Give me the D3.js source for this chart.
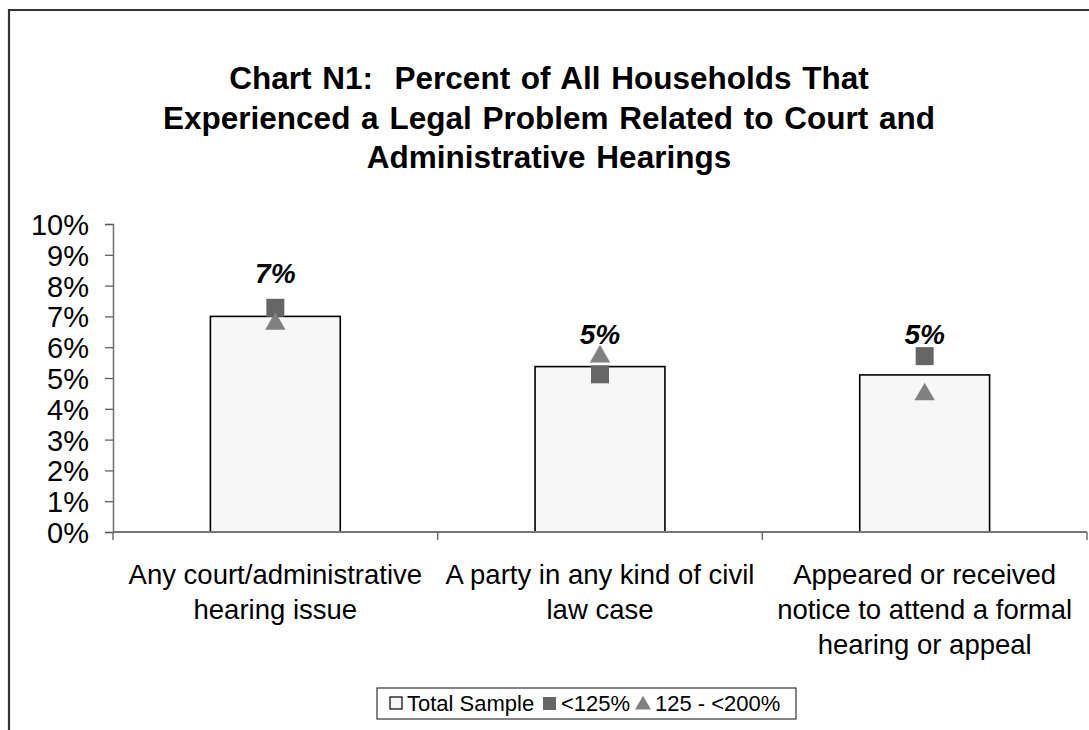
<!DOCTYPE html>
<html><head><meta charset="utf-8">
<script src="https://cdn.jsdelivr.net/npm/d3@7"></script>
<style>html,body{margin:0;padding:0;background:#fff;}svg{display:block;font-family:Arial,"Liberation Sans",sans-serif;} text{white-space:pre;}</style>
</head><body>
<svg id="c" width="1089" height="730"></svg>
<script>
const titleLines = ["Chart N1:  Percent of All Households That", "Experienced a Legal Problem Related to Court and", "Administrative Hearings"];
const categories = ["Any court/administrative|hearing issue", "A party in any kind of civil|law case", "Appeared or received|notice to attend a formal|hearing or appeal"];
const totalSample = [7.0, 5.37, 5.1];
const below125 = [7.28, 5.12, 5.71];
const from125to200 = [6.79, 5.73, 4.5];
const barLabels = ["7%", "5%", "5%"];
const yTicks = [0,1,2,3,4,5,6,7,8,9,10];
const legendItems = ["Total Sample", "<125%", "125 - <200%"];

const svg = d3.select("#c");
// outer frame
svg.append("path").attr("d","M9,740 L9,10 L1100,10").attr("fill","none").attr("stroke","#333").attr("stroke-width",2.2);

// title
const title = svg.append("text").attr("text-anchor","middle").attr("font-weight","bold").attr("font-size",31.5).attr("word-spacing",2).attr("fill","#000");
titleLines.forEach((t,i)=>title.append("tspan").attr("x",549).attr("y",89+i*39.5).text(t));

const x = d3.scaleBand().domain(categories).range([113,1087]).paddingInner(0).paddingOuter(0);
const y = d3.scaleLinear().domain([0,10]).range([532,224]);

// bars
const bw = x.bandwidth()*0.4;
svg.selectAll("rect.bar").data(totalSample).join("rect").attr("class","bar")
  .attr("x",(d,i)=>x(categories[i])+(x.bandwidth()-bw)/2).attr("width",bw)
  .attr("y",d=>y(d)).attr("height",d=>y(0)-y(d))
  .attr("fill","#f7f7f7").attr("stroke","#000").attr("stroke-width",1.6);

// y axis
const ya = svg.append("g").attr("transform","translate(113,0)")
  .call(d3.axisLeft(y).tickValues(yTicks).tickSize(8).tickPadding(16).tickFormat(d=>d+"%"));
ya.select(".domain").attr("stroke","#777").attr("stroke-width",1.6);
ya.selectAll(".tick line").attr("stroke","#555").attr("stroke-width",1.2);
ya.selectAll("text").attr("font-size",29).attr("font-family","Arial, 'Liberation Sans', sans-serif").attr("fill","#000").attr("dy","0.36em");

// x axis
const xa = svg.append("g").attr("transform","translate(0,532)");
xa.append("line").attr("x1",113).attr("x2",1087).attr("stroke","#777").attr("stroke-width",2);
const bounds = [113].concat(categories.map(c=>x(c)+x.bandwidth()));
xa.selectAll("line.t").data(bounds).join("line").attr("class","t")
  .attr("x1",d=>d).attr("x2",d=>d).attr("y1",0).attr("y2",8).attr("stroke","#666").attr("stroke-width",1.4);
categories.forEach((c,i)=>{
  const t = xa.append("text").attr("text-anchor","middle").attr("font-size",27.5).attr("fill","#000");
  c.split("|").forEach((ln,j)=>t.append("tspan").attr("x",x(c)+x.bandwidth()/2).attr("y",52+j*35).text(ln));
});

// markers
const cx = i => x(categories[i]) + x.bandwidth()/2;
svg.selectAll("rect.sq").data(below125).join("rect").attr("class","sq")
  .attr("x",(d,i)=>cx(i)-9).attr("y",d=>y(d)-9).attr("width",18).attr("height",18).attr("fill","#666");
const tri = d3.symbol().type(d3.symbolTriangle).size(180);
svg.selectAll("path.tr").data(from125to200).join("path").attr("class","tr")
  .attr("transform",(d,i)=>`translate(${cx(i)},${y(d)+1})`).attr("d",tri).attr("fill","#808080");

// bar labels (placed one unit above the rounded value they show)
svg.selectAll("text.bl").data(barLabels).join("text").attr("class","bl")
  .attr("x",(d,i)=>cx(i)).attr("y",d=>y(parseInt(d)+1)-3)
  .attr("text-anchor","middle").attr("font-weight","bold").attr("font-style","italic").attr("font-size",28).text(d=>d);

// legend
const lg = svg.append("g");
lg.append("rect").attr("x",377).attr("y",688).attr("width",419).attr("height",31).attr("fill","#fff").attr("stroke","#333").attr("stroke-width",1.2);
lg.append("rect").attr("x",390).attr("y",697).attr("width",12).attr("height",12).attr("fill","#f7f7f7").attr("stroke","#000").attr("stroke-width",1.2);
lg.append("text").attr("x",407).attr("y",711).attr("font-size",22).text(legendItems[0]);
lg.append("rect").attr("x",543).attr("y",697).attr("width",13).attr("height",13).attr("fill","#666");
lg.append("text").attr("x",561).attr("y",711).attr("font-size",22).text(legendItems[1]);
lg.append("path").attr("transform","translate(643,705)").attr("d",d3.symbol().type(d3.symbolTriangle).size(110)).attr("fill","#808080");
lg.append("text").attr("x",655).attr("y",711).attr("font-size",22).text(legendItems[2]);
</script>
</body></html>
